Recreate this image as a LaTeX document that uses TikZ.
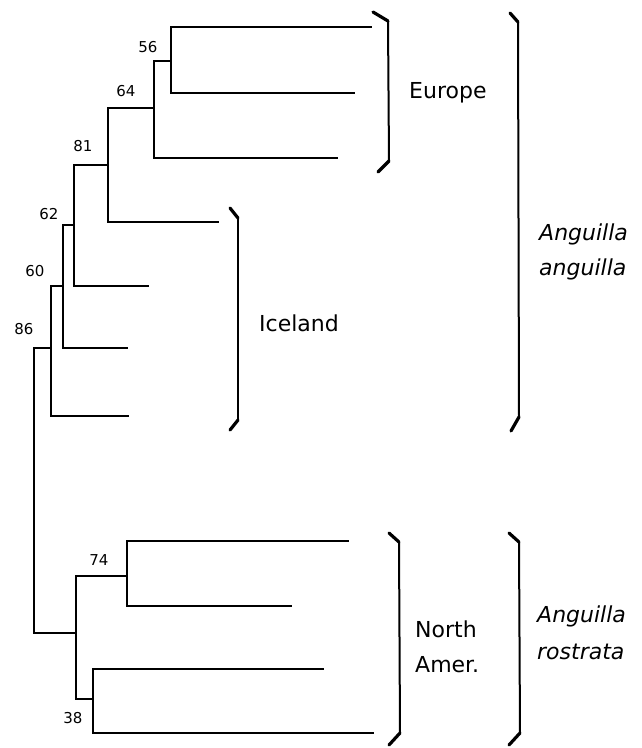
\documentclass[tikz,border=0pt]{standalone}
\usepackage{fontspec}
\setmainfont{DejaVu Sans}
\begin{document}
\begin{tikzpicture}[x=1pt,y=-1pt,
  branch/.style={line width=2.4pt, line cap=rect, line join=miter},
  brk/.style={line width=2pt, line join=round, line cap=round},
  hook/.style={line width=3.2pt, line cap=round},
  boot/.style={inner sep=0pt, font=\fontsize{15}{18}\selectfont},
  region/.style={inner sep=0pt, anchor=base west, font=\fontsize{22}{26}\selectfont},
  species/.style={inner sep=0pt, anchor=base west, font=\fontsize{22}{26}\selectfont\itshape}]
\useasboundingbox (0,0) rectangle (642,748);
% internal nodes (vertical line x, attachment y)
\coordinate (root) at (34,490);
\coordinate (n86) at (51,348);
\coordinate (n60) at (63,286);
\coordinate (n62) at (74,225);
\coordinate (n81) at (108,165);
\coordinate (n64) at (154,108);
\coordinate (n56) at (171,61);
\coordinate (nNA) at (76,633);
\coordinate (n74) at (127,576);
\coordinate (n38) at (93,699);
% leaves
\coordinate (L1) at (371,27);
\coordinate (L2) at (354,93);
\coordinate (L3) at (337,158);
\coordinate (L4) at (218,222);
\coordinate (L5) at (148,286);
\coordinate (L6) at (127,348);
\coordinate (L7) at (128,416);
\coordinate (L8) at (348,541);
\coordinate (L9) at (291,606);
\coordinate (L10) at (323,669);
\coordinate (L11) at (373,733);
% branches
\draw[branch] (root) |- (n86);
\draw[branch] (root) |- (nNA);
\draw[branch] (n86) |- (n60);
\draw[branch] (n86) |- (L7);
\draw[branch] (n60) |- (n62);
\draw[branch] (n60) |- (L6);
\draw[branch] (n62) |- (n81);
\draw[branch] (n62) |- (L5);
\draw[branch] (n81) |- (n64);
\draw[branch] (n81) |- (L4);
\draw[branch] (n64) |- (n56);
\draw[branch] (n64) |- (L3);
\draw[branch] (n56) |- (L1);
\draw[branch] (n56) |- (L2);
\draw[branch] (nNA) |- (n74);
\draw[branch] (nNA) |- (n38);
\draw[branch] (n74) |- (L8);
\draw[branch] (n74) |- (L9);
\draw[branch] (n38) |- (L10);
\draw[branch] (n38) |- (L11);
% bootstrap values
\node[boot] (b56) at (148,47) {56};
\node[boot] (b64) at (126,91) {64};
\node[boot] (b81) at (83,146) {81};
\node[boot] (b62) at (49,214) {62};
\node[boot] (b60) at (35,271) {60};
\node[boot] (b86) at (24,329) {86};
\node[boot] (b74) at (99,560) {74};
\node[boot] (b38) at (73,718) {38};
% brackets
\draw[brk] (388,21) -- (389,161);
\draw[hook] (373,12) -- (388,21);
\draw[hook] (389,161) -- (378,172);
\draw[brk] (238,218) -- (238,420);
\draw[hook] (230,208) -- (238,218);
\draw[hook] (238,420) -- (230,430);
\draw[brk] (518,22) -- (519,417);
\draw[hook] (510,13) -- (518,22);
\draw[hook] (519,417) -- (511,431);
\draw[brk] (399,542) -- (400,733);
\draw[hook] (389,533) -- (399,542);
\draw[hook] (400,733) -- (389,745);
\draw[brk] (519,542) -- (520,733);
\draw[hook] (509,533) -- (519,542);
\draw[hook] (520,733) -- (509,745);
% labels
\node[region] (europe) at (409,98) {Europe};
\node[region] (iceland) at (259,331) {Iceland};
\node[region] (north) at (415,637) {North};
\node[region] (amer) at (415,672) {Amer.};
\node[species] (aa1) at (539,240) {Anguilla};
\node[species] (aa2) at (539,275) {anguilla};
\node[species] (ar1) at (537,622) {Anguilla};
\node[species] (ar2) at (537,659) {rostrata};
\end{tikzpicture}
\end{document}
